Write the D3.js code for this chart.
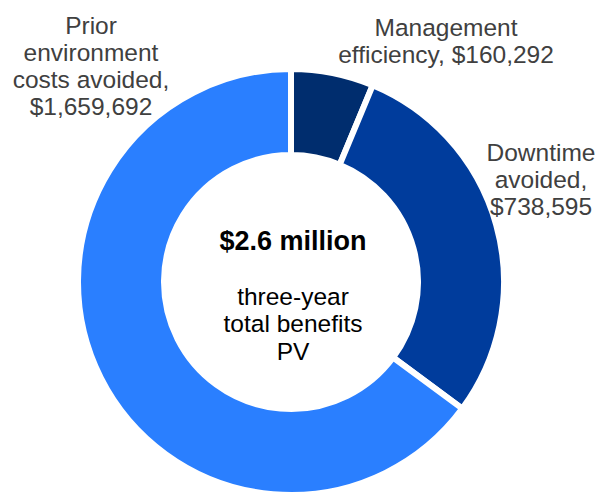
<!DOCTYPE html>
<html><head><meta charset="utf-8">
<script src="https://cdn.jsdelivr.net/npm/d3@7"></script>
<style>body{margin:0;background:#fff}svg{display:block}text{font-family:"Liberation Sans",Arial,sans-serif}</style>
</head><body>
<script>
const categories = ["Management efficiency", "Downtime avoided", "Prior environment costs avoided"];
const values = [160292, 738595, 1659692];
const colors = ["#002d6e", "#003c9c", "#2a7fff"];
const labelLines = [
  ["Management", "efficiency, $160,292"],
  ["Downtime", "avoided,", "$738,595"],
  ["Prior", "environment", "costs avoided,", "$1,659,692"]
];
const centerTitle = "$2.6 million";
const centerLines = ["three-year", "total benefits", "PV"];

const W = 602, H = 493;
const svg = d3.select("body").append("svg").attr("width", W).attr("height", H);
const cx = 291, cy = 282;
const g = svg.append("g").attr("transform", `translate(${cx},${cy})`);
const pie = d3.pie().sort(null).value(d => d)(values);
const arc = d3.arc().innerRadius(127).outerRadius(213);
g.selectAll("path").data(pie).join("path")
  .attr("d", arc).attr("fill", (d, i) => colors[i])
  .attr("stroke", "#fff").attr("stroke-width", 6);

const labelPos = [[446, 27], [541, 152], [91, 25]];
const lh = 27;
labelLines.forEach((lines, i) => {
  const t = svg.append("text").attr("text-anchor", "middle").attr("fill", "#404040").attr("font-size", 24.5);
  lines.forEach((s, j) => t.append("tspan").attr("x", labelPos[i][0]).attr("y", labelPos[i][1] + j * lh).attr("dy", "0.35em").text(s));
});

svg.append("text").attr("x", cx + 2).attr("y", 241).attr("dy", "0.35em").attr("text-anchor", "middle")
  .attr("font-weight", "bold").attr("font-size", 27).attr("fill", "#000").text(centerTitle);
const ct = svg.append("text").attr("text-anchor", "middle").attr("font-size", 24.5).attr("fill", "#000");
centerLines.forEach((s, j) => ct.append("tspan").attr("x", cx + 2).attr("y", 296 + j * 27.5).attr("dy", "0.35em").text(s));
</script>
</body></html>
